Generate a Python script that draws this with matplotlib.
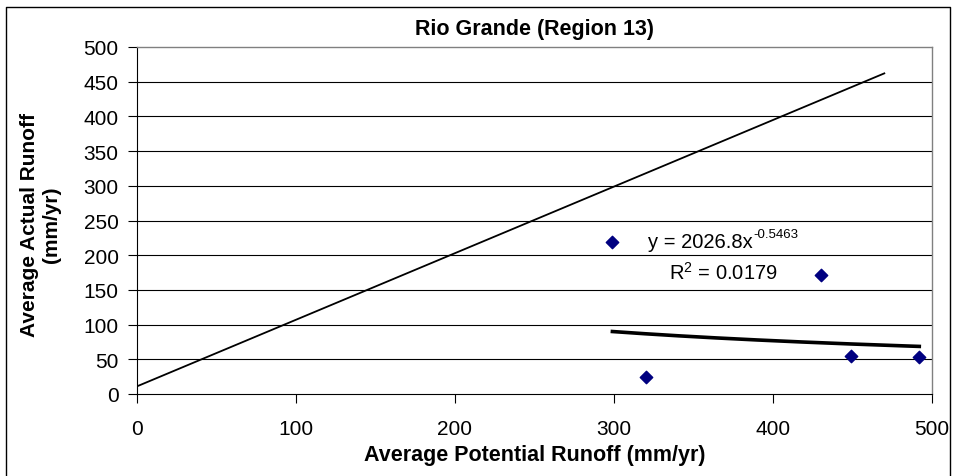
import numpy as np
import matplotlib
matplotlib.use("Agg")
import matplotlib.pyplot as plt
from matplotlib.lines import Line2D

plt.rcParams['font.family'] = ['Liberation Sans', 'DejaVu Sans']
plt.rcParams['mathtext.fontset'] = 'custom'
plt.rcParams['mathtext.rm'] = 'Liberation Sans'

# observed points (potential vs actual runoff, mm/yr)
potential = [299, 320, 430, 449, 492]
actual = [219, 24, 172, 55, 53]

# reference line as drawn on the chart
ref_x = [1, 470]
ref_y = [12, 462]

# power trendline shown on the chart: y = a * x^b
coef_a = 2026.8
coef_b = -0.5463
r_squared = 0.0179

x_ticks = [0, 100, 200, 300, 400, 500]
y_ticks = [0, 50, 100, 150, 200, 250, 300, 350, 400, 450, 500]

fig = plt.figure(figsize=(9.54, 4.77), dpi=100)
ax = fig.add_axes([137 / 954, 1 - 395 / 477, (932 - 137) / 954, (395 - 48) / 477])

# outer chart frame (left, top, right)
fig.add_artist(Line2D([6 / 954, 6 / 954, 950 / 954, 950 / 954],
                      [0, 1 - 8 / 477, 1 - 8 / 477, 0],
                      transform=fig.transFigure, color='black', lw=1.0))

ax.set_xlim(0, 500)
ax.set_ylim(0, 500)
ax.set_xticks(x_ticks)
ax.set_yticks(y_ticks)
ax.tick_params(labelsize=15, length=6.3, width=0.8, direction='out')
ax.tick_params(axis='y', pad=7)
ax.tick_params(axis='x', pad=12)

for y in y_ticks[1:-1]:
    ax.axhline(y, color='black', lw=0.8, zorder=1)

for side in ['top', 'right']:
    ax.spines[side].set_color('#808080')
    ax.spines[side].set_linewidth(1.0)
for side in ['left', 'bottom']:
    ax.spines[side].set_color('black')
    ax.spines[side].set_linewidth(0.8)

ax.plot(ref_x, ref_y, color='black', lw=1.3, zorder=3)

tx = np.linspace(min(potential), max(potential), 200)
ax.plot(tx, coef_a * tx ** coef_b, color='black', lw=2.6, zorder=3)

ax.scatter(potential, actual, marker='D', s=40, color='#000080', zorder=4)

eq = ax.text(321.4, 211.8, f"y = {coef_a}x", fontsize=14.5, va='baseline', ha='left')
ax.annotate(f"{coef_b}", xy=(1, 1), xycoords=eq, xytext=(0.3, 3),
            textcoords='offset points', fontsize=9.5, va='top', ha='left')
ax.text(334.6, 165.7, f"R$^{{2}}$ = {r_squared}", fontsize=14.5, va='baseline', ha='left')

ax.set_title("Rio Grande (Region 13)", fontsize=15.5, fontweight='bold', pad=9.5)
ax.set_xlabel("Average Potential Runoff (mm/yr)", fontsize=15.5, fontweight='bold', labelpad=4)
ax.set_ylabel("Average Actual Runoff\n(mm/yr)", fontsize=15, fontweight='bold')
ax.yaxis.set_label_coords(-0.0956, 0.49)

fig.savefig("out.png", dpi=100)
